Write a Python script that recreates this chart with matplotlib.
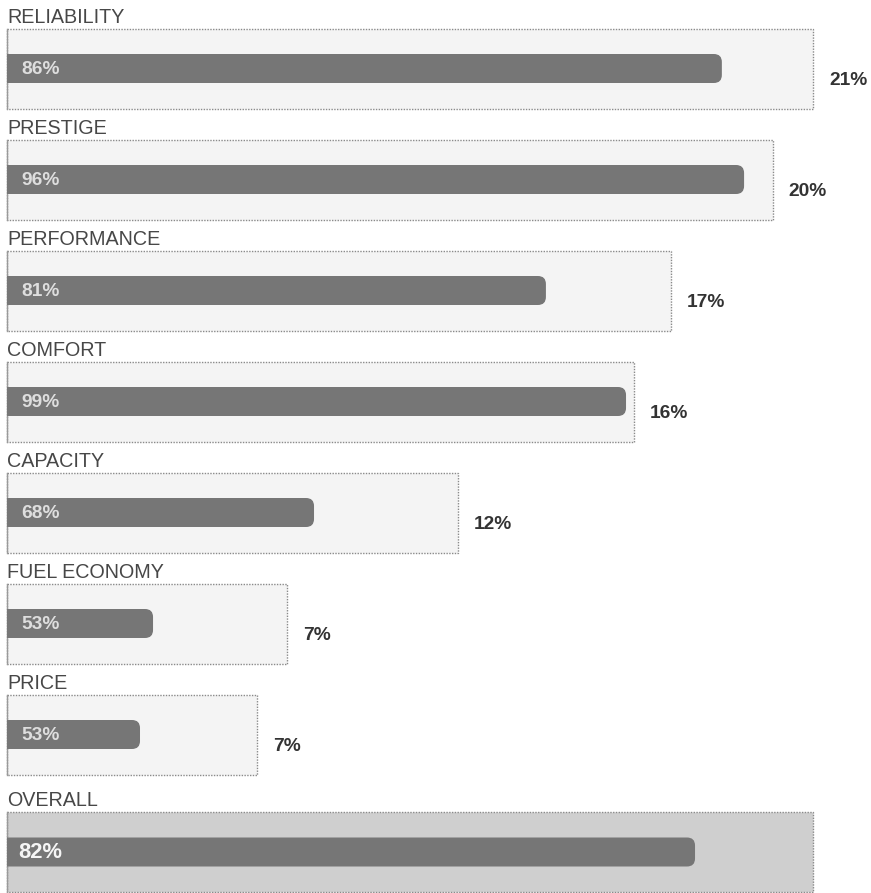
import matplotlib
matplotlib.use("Agg")
import matplotlib.pyplot as plt
from matplotlib.patches import Rectangle, FancyBboxPatch

# ---- data ----
categories = ["RELIABILITY", "PRESTIGE", "PERFORMANCE", "COMFORT",
              "CAPACITY", "FUEL ECONOMY", "PRICE", "OVERALL"]
score_labels = ["86%", "96%", "81%", "99%", "68%", "53%", "53%", "82%"]
weight_labels = ["21%", "20%", "17%", "16%", "12%", "7%", "7%", ""]
# box extent (weight units) and filled bar length (same units)
box_extent = [21.03, 19.98, 17.32, 16.36, 11.76, 7.30, 6.52, 21.03]
bar_len = [18.65, 19.23, 14.06, 16.15, 8.01, 3.81, 3.47, 17.95]

W, H = 871, 893
PX_PER_UNIT = 38.33
X0 = 7

fig = plt.figure(figsize=(W / 100, H / 100), dpi=100)
ax = fig.add_axes([0, 0, 1, 1])
ax.set_xlim(-X0 / PX_PER_UNIT, (W - X0) / PX_PER_UNIT)
ax.set_ylim(H, 0)
ax.axis("off")

FONT = "Liberation Sans"
box_h = 80
bar_h = 29
r_px = 8

for i, cat in enumerate(categories):
    overall = (i == len(categories) - 1)
    top = 812 if overall else 28.5 + 111.0 * i
    cy = top + box_h / 2
    ext = box_extent[i]
    # box
    box = Rectangle((0, top), ext, box_h,
                    facecolor="#cfcfcf" if overall else "#f4f4f4",
                    edgecolor="#8a8a8a", linestyle=(0, (1, 1)),
                    linewidth=1.0, zorder=1)
    ax.add_patch(box)
    ax.plot([0, 0], [top, top + box_h], color="#9a9a9a", lw=1.0, zorder=2)
    # bar: rounded right end, left end clipped square at box edge
    L = bar_len[i]
    r = r_px / PX_PER_UNIT
    start = -0.5
    bar = FancyBboxPatch((start + r, cy - bar_h / 2 + r_px),
                         L - start - 2 * r, bar_h - 2 * r_px,
                         boxstyle=f"round,pad={r}",
                         mutation_aspect=PX_PER_UNIT,
                         facecolor="#767676", edgecolor="none", zorder=3)
    ax.add_patch(bar)
    clip = Rectangle((0, top), ext, box_h, transform=ax.transData)
    bar.set_clip_path(clip)
    # title
    ax.text(0, top - 5.5, cat, fontsize=14.2, family=FONT, color="#474747",
            ha="left", va="baseline", zorder=4)
    # score label inside bar
    if overall:
        ax.text(11 / PX_PER_UNIT, cy + 1, score_labels[i], fontsize=15.8,
                family=FONT, fontweight="bold", color="#f5f5f5",
                ha="left", va="center", zorder=5)
    else:
        ax.text(14.5 / PX_PER_UNIT, cy + 1, score_labels[i], fontsize=13.8,
                family=FONT, fontweight="bold", color="#dedede",
                ha="left", va="center", zorder=5)
    # weight label
    if weight_labels[i]:
        ax.text(ext + 16 / PX_PER_UNIT, cy + 12, weight_labels[i], fontsize=13.8,
                family=FONT, fontweight="bold", color="#333333",
                ha="left", va="center", zorder=5)

fig.savefig("out.png", dpi=100, facecolor="white")
